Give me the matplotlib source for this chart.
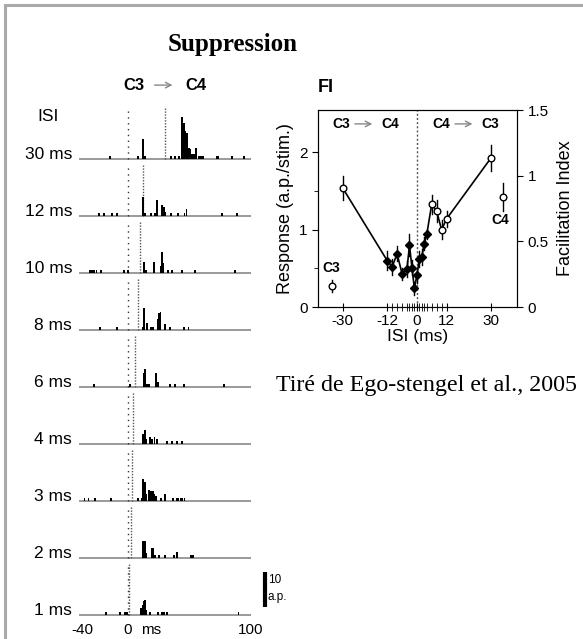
import matplotlib
matplotlib.use("Agg")
import matplotlib.pyplot as plt
from matplotlib.lines import Line2D

plt.rcParams['font.family'] = ['Liberation Sans', 'DejaVu Sans']

# ---------------- data: left panel (PSTHs) ----------------
row_labels = ["30 ms", "12 ms", "10 ms", "8 ms", "6 ms", "4 ms", "3 ms", "2 ms", "1 ms"]
isi_values = [30, 12, 10, 8, 6, 4, 3, 2, 1]

t30 = [-14.7, 8.4, 12.2, 13.9, 34.8, 38.0, 41.3, 44.3, 45.4, 46.7, 48.0, 49.5, 50.8, 52.4, 53.8, 55.7, 57.6, 59.5, 61.0, 72.3, 73.6, 85.0, 94.6]
c30 = [1, 1, 5.7, 1, 1, 1, 1, 12, 10.5, 8, 7.6, 3.3, 3, 1.5, 1.5, 3.3, 1, 1, 1, 1, 1, 1, 1]
t12 = [-23.6, -19.8, -12.8, -8.7, 12.5, 13.9, 18.8, 22.2, 23.4, 27.7, 29.0, 30.2, 34.8, 40.5, 46.0, 47.6, 76.6, 89.0]
c12 = [1, 1, 1, 1, 5.5, 1, 1, 1, 4.6, 3.1, 2.6, 1.1, 1, 1, 1, 2.2, 1, 1]
t10 = [-31.0, -29.6, -28.0, -25.8, -22.0, -3.0, 0.2, 13.3, 14.4, 21.2, 26.6, 27.7, 28.8, 32.6, 35.6, 43.8, 54.6, 87.2]
c10 = [1, 1, 1, 1, 1, 1, 1, 3.1, 1, 3.1, 2.2, 6, 3, 1, 1, 1, 1, 1]
t8 = [-22.8, -8.7, 12.3, 13.3, 15.2, 18.8, 20.1, 24.2, 25.3, 26.4, 30.4, 34.5, 45.4, 49.2]
c8 = [1, 1, 1, 6.4, 2, 1, 1, 3.2, 5, 5.2, 1.8, 1, 1, 1]
t6 = [-28.0, 1.6, 13.0, 14.1, 15.2, 17.1, 23.1, 24.2, 34.5, 38.3, 45.7, 78.3]
c6 = [1, 1, 4, 5.2, 1, 1, 4, 1.5, 1, 1, 1, 1]
t4 = [12.2, 13.6, 14.4, 18.2, 19.8, 21.5, 23.4, 31.5, 35.6, 40.0, 44.3]
c4 = [3, 4, 1.5, 2, 1.5, 2, 1.5, 1, 1, 1, 1]
t3 = [-35.6, -32.3, -26.9, -14.1, 7.9, 11.4, 12.5, 13.9, 15.0, 17.1, 18.8, 20.4, 21.5, 23.1, 26.9, 30.4, 36.4, 39.7, 41.0, 42.7, 44.3, 46.0]
c3 = [1, 1, 1, 1, 1, 1, 6.3, 5.5, 2.2, 3.1, 3, 3, 2, 1.5, 1, 2, 1, 1, 1, 1, 1, 1]
t2 = [11.7, 12.5, 13.6, 14.7, 19.3, 20.4, 22.0, 25.5, 30.2, 37.2, 40.2, 51.6, 52.7]
c2 = [1.2, 5, 5, 1.5, 3, 3, 1, 1, 1, 1, 1.8, 1, 1]
t1 = [-18.2, -6.8, -2.4, -0.8, 10.6, 11.7, 12.8, 13.9, 15.0, 18.0, 24.2, 27.4, 29.6, 31.5, 90.0]
c1 = [1, 1, 1, 1, 2, 3, 4, 4.4, 1.5, 1, 1, 1, 1, 1, 1]

psth_times = [t30, t12, t10, t8, t6, t4, t3, t2, t1]
psth_counts = [c30, c12, c10, c8, c6, c4, c3, c2, c1]

# ---------------- data: right panel (FI) ----------------
isi_pts = [-30, -12, -10, -8, -6, -4, -3, -2, -1, 0, 1, 2, 3, 4, 6, 8, 10, 12, 30]
resp = [1.54, 0.60, 0.52, 0.69, 0.43, 0.49, 0.80, 0.51, 0.24, 0.41, 0.62, 0.65, 0.82, 0.94, 1.33, 1.24, 1.00, 1.14, 1.93]
resp_err = [0.16, 0.12, 0.10, 0.10, 0.08, 0.10, 0.14, 0.10, 0.08, 0.10, 0.10, 0.10, 0.08, 0.06, 0.12, 0.14, 0.12, 0.10, 0.17]
filled = [False, True, True, True, True, True, True, True, True, True, True, True, True, True, False, False, False, False, False]
c3_alone = (-34.5, 0.27, 0.08)
c4_alone = (35.0, 1.42, 0.18)

x_major = [-30, -12, 0, 12, 30]
x_minor = [-10, -8, -6, -4, -3, -2, -1, 1, 2, 3, 4, 6, 8, 10]

# ---------------- figure ----------------
W, H = 583, 639
fig = plt.figure(figsize=(W / 100, H / 100), dpi=100)

# frame lines (top & left)
fig.add_artist(Line2D([5 / W, 1.0], [1 - 5 / H, 1 - 5 / H], color='#aaaaaa', lw=2.2))
fig.add_artist(Line2D([5 / W, 5 / W], [0, 1 - 5 / H], color='#aaaaaa', lw=2.2))

fig.text(233 / W, 1 - 45 / H, "Suppression", family='Liberation Serif', weight='bold',
         fontsize=18, ha='center', va='center')

# ---- left panel ----
px_per_count = 3.5
b0_px = 159.3
row_step = 57.0 / px_per_count
ax = fig.add_axes([79 / W, 1 - 625 / H, 171.7 / W, 530 / H])
ax.set_xlim(-40, 100)
ax.set_ylim((b0_px - 625) / px_per_count, (b0_px - 95) / px_per_count)
ax.axis('off')

line_h = 14.8
for i, (lab, isi, ts, cs) in enumerate(zip(row_labels, isi_values, psth_times, psth_counts)):
    b = -i * row_step
    ax.plot([-40, 100], [b, b], color='#9a9a9a', lw=1.4, solid_capstyle='butt', zorder=1)
    ax.bar(ts, cs, width=1.45, bottom=b, color='black', zorder=3)
    ax.plot([0, 0], [b, b + line_h], color='#333333', lw=1.0, ls=(0, (1, 3.2)), zorder=2)
    ax.plot([isi, isi], [b, b + line_h], color='#555555', lw=1.0, ls=(0, (1, 1.1)), zorder=2)
    ax.text(-45.6, b + 1.5, lab, ha='right', va='center', fontsize=12.5, clip_on=False)

ax.text(-65.2, 12.1, "ISI", ha='center', va='center', fontsize=12.5)
ax.text(4.4, 21.2, "C3", ha='center', va='center', fontsize=12, weight='bold')
ax.annotate('', xy=(38.5, 21.2), xytext=(19.3, 21.2), annotation_clip=False,
            arrowprops=dict(arrowstyle='->', color='#888888', lw=1.0))
ax.text(55.3, 21.2, "C4", ha='center', va='center', fontsize=12, weight='bold')

# scale bar
bar_top = (b0_px - 572) / px_per_count
ax.plot([111.7, 111.7], [bar_top - 10, bar_top], color='black', lw=3, clip_on=False,
        solid_capstyle='butt')
ax.text(114.0, bar_top - 2.3, "10", fontsize=8.5, ha='left', va='center', clip_on=False)
ax.text(114.0, bar_top - 7.2, "a.p.", fontsize=8.5, ha='left', va='center', clip_on=False)

# bottom labels
ylab = (b0_px - 630) / px_per_count
ax.text(-37, ylab, "-40", ha='center', va='center', fontsize=11, clip_on=False)
ax.text(0, ylab, "0", ha='center', va='center', fontsize=11, clip_on=False)
ax.text(18.7, ylab, "ms", ha='center', va='center', fontsize=11, clip_on=False)
ax.text(100, ylab, "100", ha='center', va='center', fontsize=11, clip_on=False)

# ---- right panel ----
ax2 = fig.add_axes([318 / W, 1 - 307 / H, 199 / W, 197 / H])
ax2.set_xlim(-40, 40.5)
ax2.set_ylim(0, 2.55)
ax2.axvline(0, color='#555555', lw=1.0, ls=(0, (1.5, 1.5)), zorder=1)
ax2.plot(isi_pts, resp, color='black', lw=1.2, zorder=2)
for x, y, e, f in zip(isi_pts, resp, resp_err, filled):
    ax2.plot([x, x], [y - e, y + e], color='black', lw=1.0, zorder=2)
    if f:
        ax2.plot(x, y, marker='D', ms=3.8, mfc='black', mec='black', zorder=4)
    else:
        ax2.plot(x, y, marker='o', ms=4.8, mfc='white', mec='black', mew=1.0, zorder=4)
for (x, y, e) in (c3_alone, c4_alone):
    ax2.plot([x, x], [y - e, y + e], color='black', lw=1.0, zorder=2)
    ax2.plot(x, y, marker='o', ms=4.8, mfc='white', mec='black', mew=1.0, zorder=4)
ax2.text(c3_alone[0], 0.50, "C3", ha='center', va='center', fontsize=10, weight='bold')
ax2.text(c4_alone[0] - 1.2, 1.13, "C4", ha='center', va='center', fontsize=10, weight='bold')

ax2.set_xticks(x_major)
ax2.set_xticklabels([str(v) for v in x_major])
ax2.set_xticks(x_minor, minor=True)
ax2.set_yticks([0, 1, 2])
ax2.set_yticks([0.5, 1.5], minor=True)
ax2.tick_params(axis='x', which='major', direction='inout', length=6, labelsize=11, pad=2)
ax2.tick_params(axis='x', which='minor', direction='inout', length=6)
ax2.tick_params(axis='y', which='major', direction='out', length=4, labelsize=11)
ax2.tick_params(axis='y', which='minor', direction='out', length=3)
ax2.set_xlabel("ISI (ms)", fontsize=12.5, labelpad=1)
ax2.set_ylabel("Response (a.p./stim.)", fontsize=13, labelpad=4)

ax3 = ax2.twinx()
ax3.set_ylim(0, 1.5)
ax3.set_yticks([0, 0.5, 1, 1.5])
ax3.set_yticklabels(["0", "0.5", "1", "1.5"])
ax3.tick_params(axis='y', direction='out', length=4, labelsize=11)
ax3.set_ylabel("Facilitation Index", fontsize=13, labelpad=6)

ytxt = 2.37
ax2.text(-30.4, ytxt, "C3", ha='center', va='center', fontsize=10, weight='bold')
ax2.annotate('', xy=(-16.9, ytxt), xytext=(-26.2, ytxt),
             arrowprops=dict(arrowstyle='->', color='#888888', lw=1.0))
ax2.text(-10.8, ytxt, "C4", ha='center', va='center', fontsize=10, weight='bold')
ax2.text(10.0, ytxt, "C4", ha='center', va='center', fontsize=10, weight='bold')
ax2.annotate('', xy=(23.6, ytxt), xytext=(14.3, ytxt),
             arrowprops=dict(arrowstyle='->', color='#888888', lw=1.0))
ax2.text(29.7, ytxt, "C3", ha='center', va='center', fontsize=10, weight='bold')

fig.text(326 / W, 1 - 87 / H, "FI", fontsize=13, weight='bold', ha='center', va='center')

fig.text(426 / W, 1 - 385 / H, "Tiré de Ego-stengel et al., 2005", family='Liberation Serif',
         fontsize=17.3, ha='center', va='center')

fig.savefig("out.png", dpi=100)
